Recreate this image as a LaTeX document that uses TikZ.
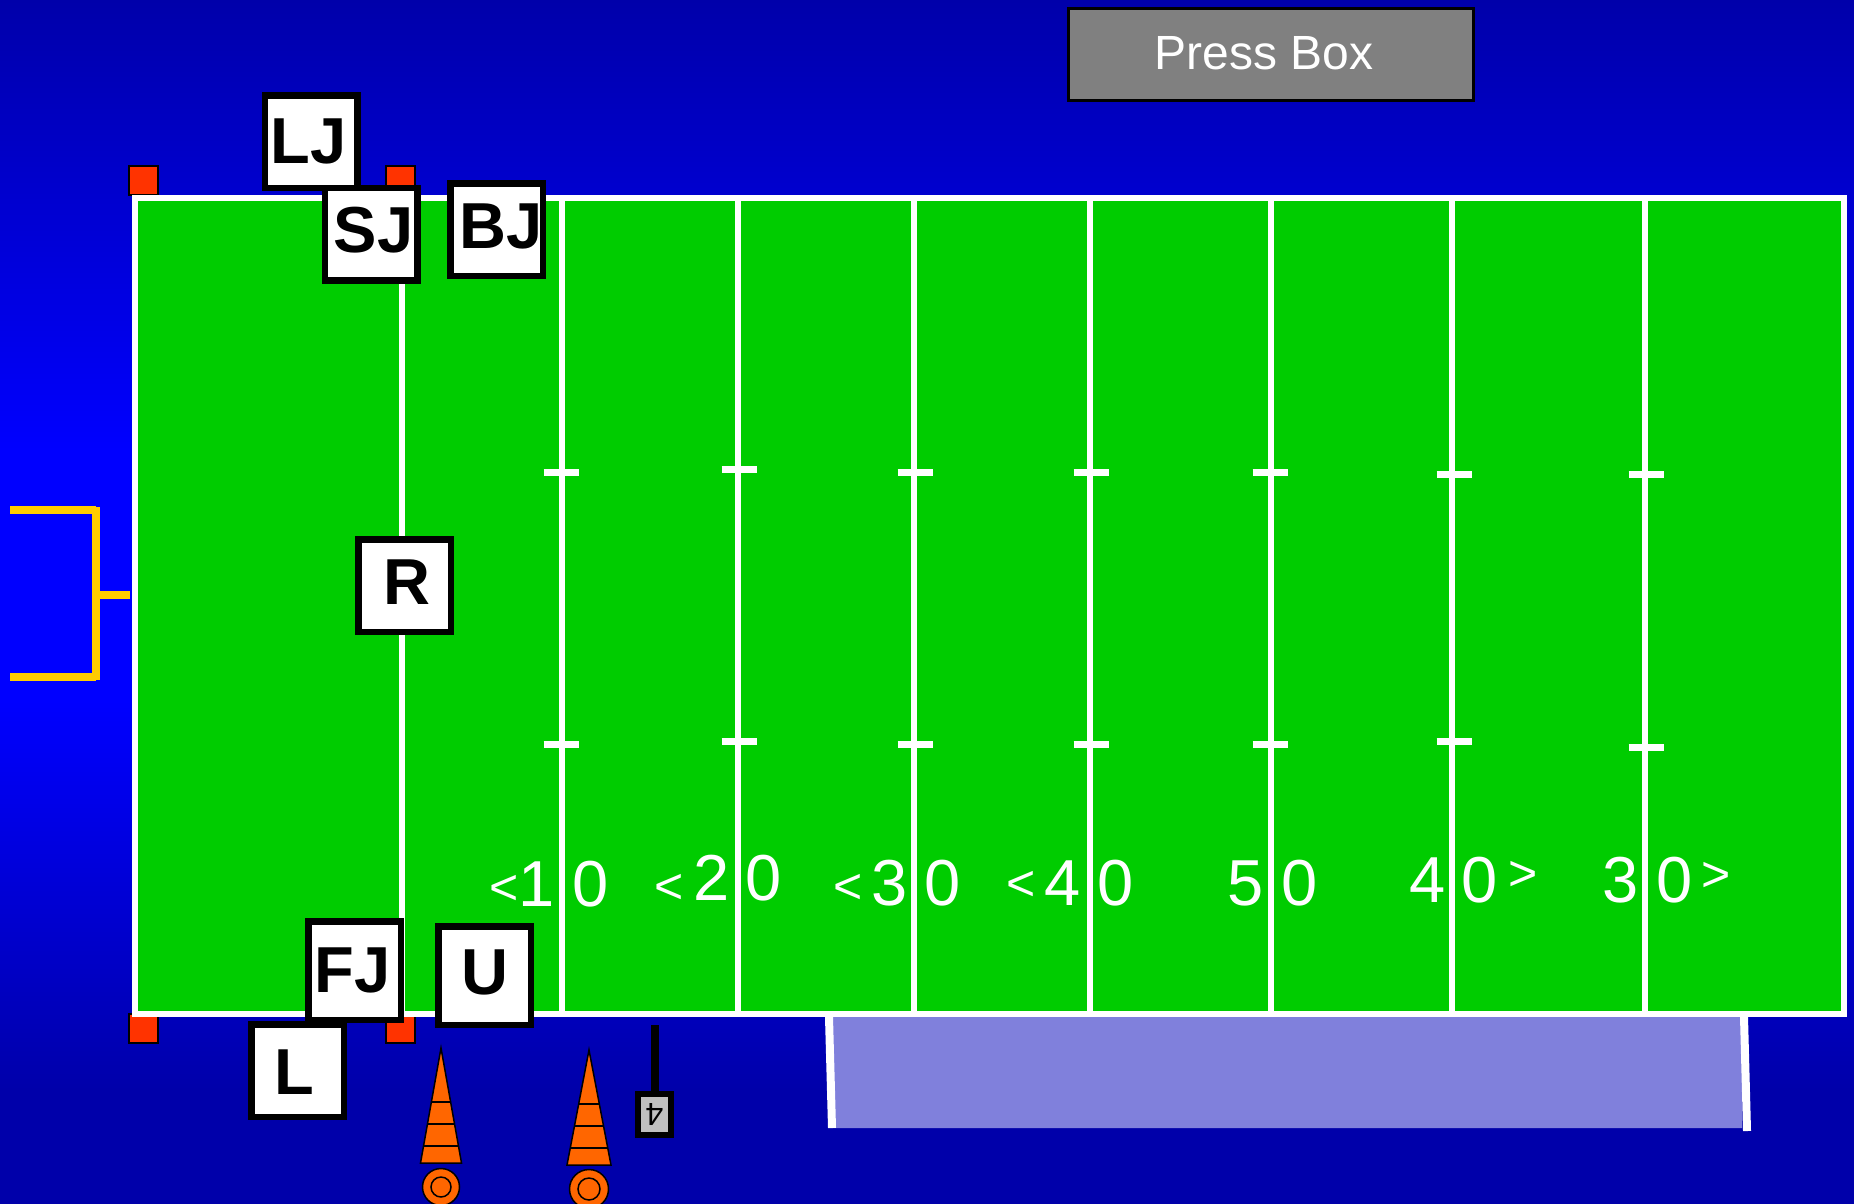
\documentclass[tikz,border=0pt]{standalone}
\usepackage{fontspec}
\setmainfont{Liberation Sans}
\usetikzlibrary{
  positioning,
  calc
}
\definecolor{fieldTurf}{RGB}{0,204,0}
\definecolor{fieldSkyDark}{RGB}{0,0,170}
\definecolor{fieldSkyBright}{RGB}{0,0,255}
\definecolor{fieldPylon}{RGB}{255,51,0}
\definecolor{fieldCone}{RGB}{255,102,0}
\definecolor{fieldGoal}{RGB}{255,204,0}
\definecolor{fieldBench}{RGB}{128,128,220}
\definecolor{fieldPress}{RGB}{128,128,128}
\definecolor{fieldDown}{RGB}{192,192,192}
\pgfdeclareverticalshading{fieldsky}{100bp}{
  color(0bp)=(fieldSkyDark);
  color(29.7bp)=(fieldSkyDark);
  color(45.9bp)=(fieldSkyBright);
  color(56.3bp)=(fieldSkyBright);
  color(75bp)=(fieldSkyDark);
  color(100bp)=(fieldSkyDark)
}
\newcommand{\yardtip}[2]{\raisebox{#1pt}{\fontsize{50pt}{54pt}\selectfont #2}}
\tikzset{
  fieldbox/.style={
    draw=white,
    line width=6pt,
    fill=fieldTurf,
    minimum width=1709pt,
    minimum height=816pt
  },
  yardline/.style={
    draw=white,
    line width=6pt
  },
  hashmark/.style={
    draw=white,
    line width=7pt
  },
  judgebox/.style={
    draw=black,
    line width=6.5pt,
    fill=white,
    minimum width=92.5pt,
    minimum height=92.5pt,
    inner sep=0pt,
    text height=47pt,
    text depth=4pt,
    font=\fontsize{65pt}{70pt}\selectfont\bfseries
  },
  pylon/.style={
    draw=black,
    line width=2pt,
    fill=fieldPylon,
    minimum size=29pt,
    inner sep=0pt
  },
  yardnum/.style={
    anchor=base west,
    inner sep=0pt,
    text=white,
    font=\fontsize{65pt}{70pt}\selectfont
  },
  goalbar/.style={
    draw=fieldGoal,
    line width=8pt
  },
  coneshape/.style={
    draw=black,
    line width=1.5pt,
    fill=fieldCone
  },
  conering/.style={
    circle,
    draw=black,
    line width=1.5pt,
    fill=fieldCone,
    inner sep=0pt
  },
  pressbox/.style={
    draw=black,
    line width=2.5pt,
    fill=fieldPress,
    text=white,
    minimum width=405pt,
    minimum height=92pt,
    font=\fontsize{48pt}{52pt}\selectfont
  },
  downbox/.style={
    draw=black,
    line width=6pt,
    fill=fieldDown,
    minimum width=33pt,
    minimum height=41pt,
    inner sep=0pt,
    font=\fontsize{32pt}{34pt}\selectfont
  }
}
\begin{document}
\begin{tikzpicture}[x=1pt,y=-1pt]
  \clip (0,0) rectangle (1854,1203);
  \shade[shading=fieldsky] (0,0) rectangle (1854,1203);

  \node[pressbox] (press) at (1271,54.5) {\hspace*{-14pt}\raisebox{3pt}{Press Box}};

  % pylons sit under the field edge and the judges
  \node[pylon] (pylonA) at (143.5,180) {};
  \node[pylon] (pylonB) at (400,180) {};
  \node[pylon] (pylonC) at (143.5,1028.5) {};
  \node[pylon] (pylonD) at (400,1028.5) {};

  % team area
  \fill[fieldBench] (830,1017) -- (1742,1017) -- (1742,1128) -- (833,1128) -- cycle;
  \draw[yardline, line width=8pt] (829,1017) -- (832,1128);
  \draw[yardline, line width=8pt] (1744,1017) -- (1747,1131);

  \node[fieldbox] (field) at (989.5,606) {};

  \draw[yardline] (402,198) -- (402,1014);
  \draw[yardline] (561.5,198) -- (561.5,1014);
  \draw[yardline] (737.5,198) -- (737.5,1014);
  \draw[yardline] (914,198) -- (914,1014);
  \draw[yardline] (1090,198) -- (1090,1014);
  \draw[yardline] (1271,198) -- (1271,1014);
  \draw[yardline] (1452,198) -- (1452,1014);
  \draw[yardline] (1645,198) -- (1645,1014);

  % hash marks
  \draw[hashmark] (543.5,472) -- (578.5,472);
  \draw[hashmark] (543.5,744) -- (578.5,744);
  \draw[hashmark] (721.5,469.5) -- (756.5,469.5);
  \draw[hashmark] (721.5,741) -- (756.5,741);
  \draw[hashmark] (897.5,472) -- (932.5,472);
  \draw[hashmark] (897.5,744) -- (932.5,744);
  \draw[hashmark] (1073.5,472) -- (1108.5,472);
  \draw[hashmark] (1073.5,744) -- (1108.5,744);
  \draw[hashmark] (1252.5,472) -- (1287.5,472);
  \draw[hashmark] (1252.5,744) -- (1287.5,744);
  \draw[hashmark] (1436.5,474) -- (1471.5,474);
  \draw[hashmark] (1436.5,741) -- (1471.5,741);
  \draw[hashmark] (1628.5,474) -- (1663.5,474);
  \draw[hashmark] (1628.5,747) -- (1663.5,747);

  \node[yardnum] (yardA) at (489,906) {\yardtip{2}{<}1\kern18pt 0};
  \node[yardnum] (yardB) at (654,900) {\yardtip{-3.6}{<}\kern10pt 2\kern16pt 0};
  \node[yardnum] (yardC) at (833,905) {\yardtip{2}{<}\kern9pt 3\kern17pt 0};
  \node[yardnum] (yardD) at (1006.5,905) {\yardtip{5}{<}\kern9pt 4\kern16pt 0};
  \node[yardnum] (yardE) at (1227,905) {5\kern18pt 0};
  \node[yardnum] (yardF) at (1409.5,902) {4\kern15.5pt 0\kern11pt\yardtip{11.5}{>}};
  \node[yardnum] (yardG) at (1602,902) {3\kern18pt 0\kern9pt\yardtip{10.5}{>}};

  % goal post
  \draw[goalbar] (10,510) -- (96,510);
  \draw[goalbar] (10,677) -- (96,677);
  \draw[goalbar] (96,507) -- (96,680);
  \draw[goalbar] (100,595) -- (130,595);

  \node[judgebox] (judgeLJ) at (311,141.5) {\kern-5pt LJ};
  \node[judgebox, text depth=10pt] (judgeSJ) at (371,234) {\kern5pt SJ};
  \node[judgebox, text depth=10pt] (judgeBJ) at (496.5,229.5) {\kern9pt BJ};
  \node[judgebox, text depth=10pt] (judgeR) at (404.5,585.5) {\kern5pt R};
  \node[judgebox, text depth=0pt] (judgeL) at (297.5,1070.5) {\kern-7pt L};
  \node[judgebox, minimum height=98.5pt] (judgeFJ) at (354.5,970.5) {\kern-4pt FJ};
  \node[judgebox, minimum height=98.5pt, text depth=10pt] (judgeU) at (484.5,975.5) {U};

  % cones
  \draw[coneshape] (441,1048) -- (461.5,1163) -- (420.5,1163) -- cycle;
  \draw[black, line width=1.5pt] (431.4,1102) -- (450.6,1102);
  \draw[black, line width=1.5pt] (427.5,1124) -- (454.5,1124);
  \draw[black, line width=1.5pt] (423.5,1146) -- (458.5,1146);
  \node[conering, minimum size=37pt] (ringA) at (441,1187) {};
  \node[conering, minimum size=20pt] (ringB) at (441,1187) {};

  \draw[coneshape] (589,1050) -- (611,1165) -- (567,1165) -- cycle;
  \draw[black, line width=1.5pt] (578.7,1104) -- (599.3,1104);
  \draw[black, line width=1.5pt] (574.5,1126) -- (603.5,1126);
  \draw[black, line width=1.5pt] (570.3,1148) -- (607.7,1148);
  \node[conering, minimum size=39pt] (ringC) at (589,1189) {};
  \node[conering, minimum size=22pt] (ringD) at (589,1189) {};

  % down marker
  \node[downbox] (down) at (654.5,1114.5) {\rotatebox{180}{4}};
  \coordinate (stick) at (654.5,1025);
  \draw[black, line width=8pt] (down.north) -- (stick);
\end{tikzpicture}
\end{document}
